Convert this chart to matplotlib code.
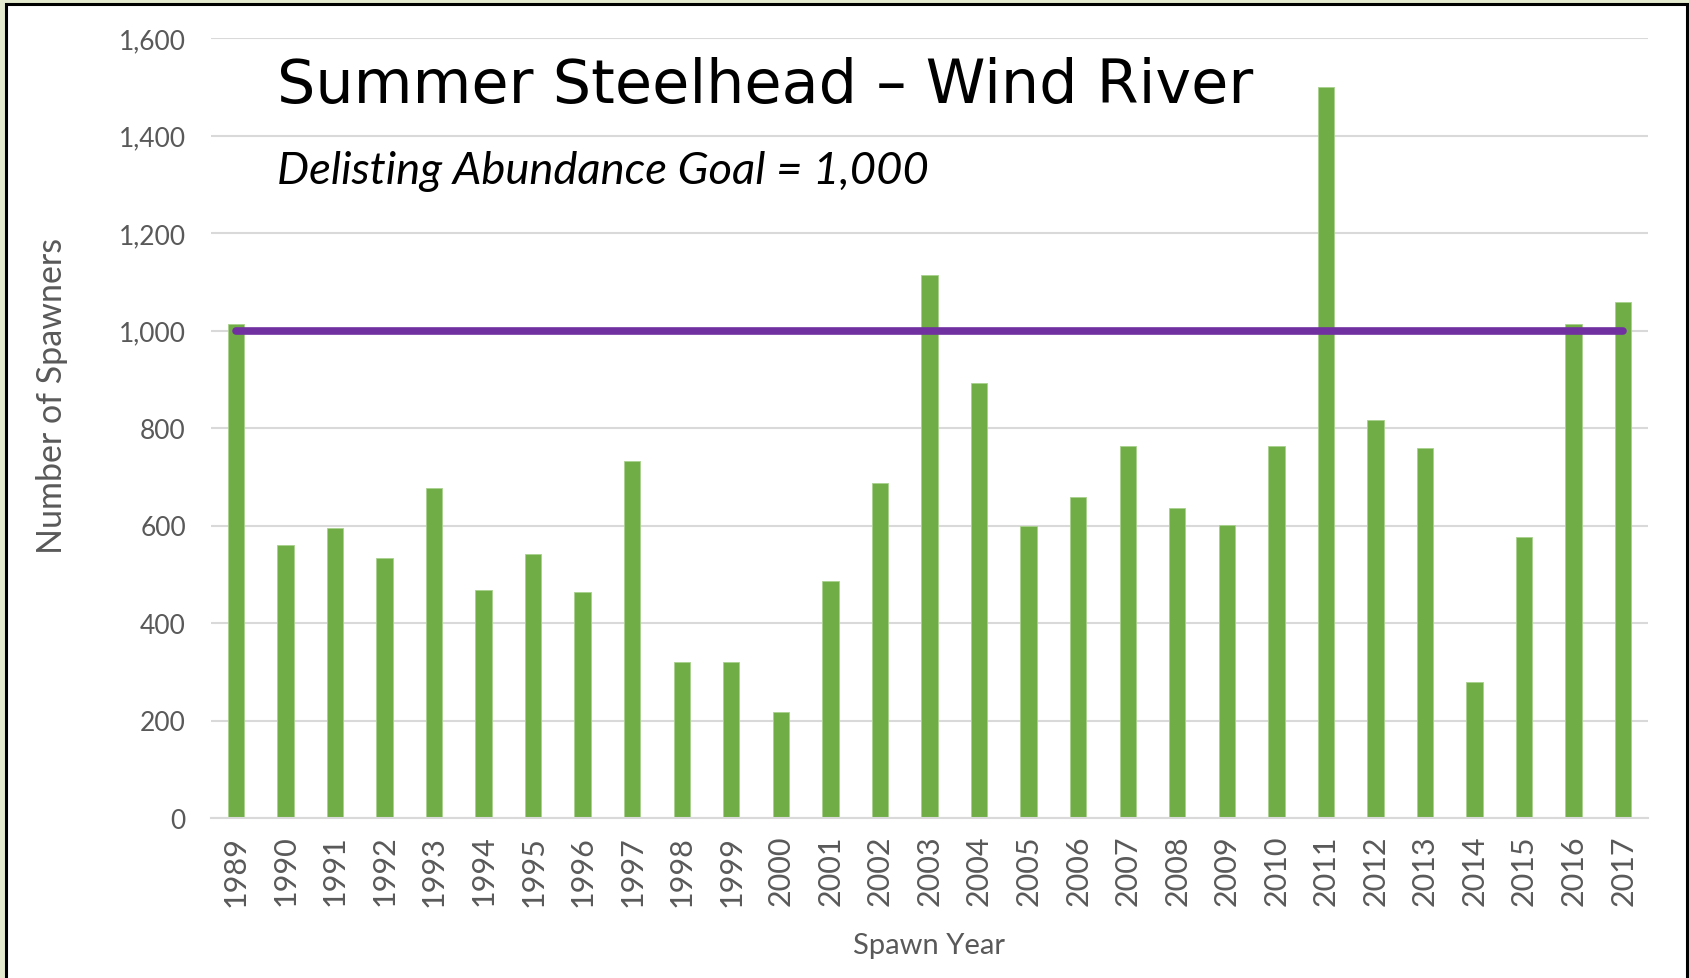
import numpy as np
import matplotlib
matplotlib.use("Agg")
import matplotlib.pyplot as plt
from matplotlib.patches import Rectangle

# spawner counts
years = [str(y) for y in range(1989, 2018)]
spawners = [1014, 559, 595, 533, 676, 467, 541, 463, 732, 319,
            319, 217, 486, 687, 1113, 893, 599, 658, 764, 636,
            602, 764, 1500, 816, 760, 280, 577, 1014, 1058]
goal = 1000
y_ticks = [0, 200, 400, 600, 800, 1000, 1200, 1400, 1600]

W, H = 1690, 979
fig = plt.figure(figsize=(W / 100, H / 100), dpi=100)
fig.patch.set_facecolor("#E4EACD")

# white panel with black frame
panel = Rectangle((6 / W, -0.05), (1687 - 6) / W, 1.05 - 5 / H,
                  transform=fig.transFigure, facecolor="white",
                  edgecolor="black", linewidth=2.2, zorder=0)
fig.add_artist(panel)

ax = fig.add_axes([211 / W, 160 / H, (1648 - 211) / W, (819 - 39) / H])
ax.set_facecolor("none")

x = np.arange(len(years))
ax.bar(x, spawners, width=0.33, color="#70AD47", edgecolor="#A9D18E",
       linewidth=0.6, zorder=2)
ax.plot([x[0], x[-1]], [goal, goal], color="#7030A0", linewidth=5.5,
        solid_capstyle="round", zorder=3)

ax.set_xlim(-0.5, len(years) - 0.5)
ax.set_ylim(0, 1600)
ax.set_yticks(y_ticks)
ax.set_yticklabels([f"{v:,}" for v in y_ticks])
ax.set_xticks(x)
ax.set_xticklabels(years, rotation=90)

tick_color = "#595959"
ax.tick_params(axis="both", length=0, colors=tick_color, labelsize=19)
ax.tick_params(axis="x", labelsize=22, pad=12)
ax.tick_params(axis="y", pad=18)
for lab in ax.get_xticklabels() + ax.get_yticklabels():
    lab.set_fontfamily("Lato")

ax.grid(axis="y", color="#D9D9D9", linewidth=1.5, zorder=1)
ax.set_axisbelow(True)
for side in ["top", "right", "left"]:
    ax.spines[side].set_visible(False)
ax.spines["bottom"].set_color("#D9D9D9")
ax.spines["bottom"].set_linewidth(1.5)

fig.text(52 / W, 1 - 396 / H, "Number of Spawners", rotation=90,
         ha="center", va="center", fontsize=24.5, color=tick_color,
         family="Lato")
fig.text(929 / W, 1 - 946 / H, "Spawn Year", ha="center", va="center",
         fontsize=21, color=tick_color, family="Lato")

fig.text(277 / W, 1 - 103 / H, "Summer Steelhead \u2013 Wind River",
         ha="left", va="baseline", fontsize=43.5, color="black",
         family="DejaVu Sans")
fig.text(277 / W, 1 - 184 / H, "Delisting Abundance Goal = 1,000",
         ha="left", va="baseline", fontsize=32.7, color="black",
         family="Lato", style="italic")

fig.savefig("out.png", dpi=100)
